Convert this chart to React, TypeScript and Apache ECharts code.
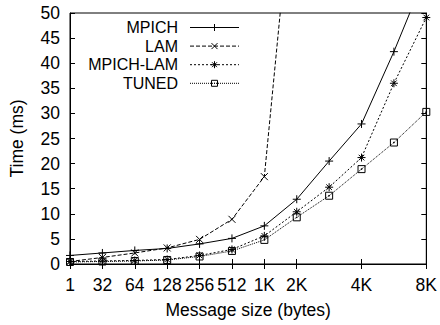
import React, { useEffect, useRef } from "react";
import * as echarts from "echarts";

const sizes = ["1", "32", "64", "128", "256", "512", "1K", "2K", "3K", "4K", "6K", "8K"];
const labeledSizes = ["1", "32", "64", "128", "256", "512", "1K", "2K", "4K", "8K"];
const mpich = [1.7, 2.2, 2.7, 3.1, 4.0, 5.1, 7.6, 12.9, 20.5, 27.9, 42.3, 58.0];
const lam = [0.5, 1.3, 2.2, 3.2, 4.9, 8.9, 17.4, 84.0, null, null, null, null];
const mpichLam = [0.5, 0.6, 0.7, 0.9, 1.7, 2.9, 5.6, 10.4, 15.3, 21.2, 36.0, 49.1];
const tuned = [0.4, 0.5, 0.6, 0.8, 1.5, 2.6, 4.8, 9.3, 13.6, 18.9, 24.2, 30.3];
const yTicks = { min: 0, max: 50, interval: 5 };

const FONT = "Liberation Sans, Arial, sans-serif";
const FS = 17.5;
const LEGEND_FS = 16;

const SYM = {
  plus: "path://M5,0L5,10M0,5L10,5",
  cross: "path://M0,0L10,10M10,0L0,10",
  star: "path://M5,0L5,10M0,5L10,5M1.5,1.5L8.5,8.5M8.5,1.5L1.5,8.5",
  square: "path://M0,0L10,0L10,10L0,10ZM4.5,4.5L5.5,4.5L5.5,5.5L4.5,5.5Z",
};

const seriesDefs = [
  { name: "MPICH", data: mpich, dash: "solid" as any, sym: "plus", size: 8 },
  { name: "LAM", data: lam, dash: [4, 2], sym: "cross", size: 7 },
  { name: "MPICH-LAM", data: mpichLam, dash: [2, 2], sym: "star", size: 8 },
  { name: "TUNED", data: tuned, dash: [1, 1], sym: "square", size: 7 },
];

function markerEls(kind: string, cx: number, cy: number, s: number) {
  const st = { stroke: "#000", lineWidth: 1 };
  const h = s / 2;
  const els: any[] = [];
  const ln = (x1: number, y1: number, x2: number, y2: number) =>
    els.push({ type: "line", shape: { x1, y1, x2, y2 }, style: st, z: 10 });
  if (kind === "plus" || kind === "star") {
    ln(cx - h, cy, cx + h, cy);
    ln(cx, cy - h, cx, cy + h);
  }
  if (kind === "cross") {
    ln(cx - h, cy - h, cx + h, cy + h);
    ln(cx + h, cy - h, cx - h, cy + h);
  }
  if (kind === "star") {
    const d = h * 0.7;
    ln(cx - d, cy - d, cx + d, cy + d);
    ln(cx + d, cy - d, cx - d, cy + d);
  }
  if (kind === "square") {
    els.push({ type: "rect", shape: { x: cx - h, y: cy - h, width: s, height: s }, style: { fill: "none", stroke: "#000", lineWidth: 1 }, z: 10 });
    els.push({ type: "rect", shape: { x: cx - 0.5, y: cy - 0.5, width: 1, height: 1 }, style: { fill: "#000" }, z: 10 });
  }
  return els;
}

export default function App() {
  const ref = useRef<HTMLDivElement>(null);
  useEffect(() => {
    if (!ref.current) return;
    const chart = echarts.init(ref.current, null, { renderer: "svg" });
    const showFn = (_i: number, v: string) => labeledSizes.includes(v);
    const legendEls: any[] = [];
    seriesDefs.forEach((s, i) => {
      const y = 27.5 + i * 18.6;
      legendEls.push({
        type: "text",
        style: {
          text: s.name,
          x: 178,
          y,
          textAlign: "right",
          textVerticalAlign: "middle",
          fontFamily: FONT,
          fontSize: LEGEND_FS,
          fill: "#000",
        },
        z: 10,
      });
      legendEls.push({
        type: "line",
        shape: { x1: 190, y1: y, x2: 239, y2: y },
        style: { stroke: "#000", lineWidth: 1, lineDash: s.dash === "solid" ? null : s.dash },
        z: 10,
      });
      legendEls.push(...markerEls(s.sym, 214.5, y, s.size - 1));
    });
    const axisCommon = {
      axisLine: { show: true, lineStyle: { color: "#000", width: 1 } },
      splitLine: { show: false },
    };
    chart.setOption({
      animation: false,
      backgroundColor: "#fff",
      grid: { left: 69, right: 12, top: 13, bottom: 61, show: true, borderColor: "#000", borderWidth: 1 },
      xAxis: [
        {
          type: "category",
          data: sizes,
          boundaryGap: false,
          position: "bottom",
          ...axisCommon,
          axisTick: { show: true, inside: true, length: 5, interval: showFn, lineStyle: { color: "#000" } },
          axisLabel: { interval: showFn, color: "#000", fontFamily: FONT, fontSize: FS, margin: 12 },
          name: "Message size (bytes)",
          nameLocation: "middle",
          nameGap: 37,
          nameTextStyle: { color: "#000", fontFamily: FONT, fontSize: FS },
        },
        {
          type: "category",
          data: sizes,
          boundaryGap: false,
          position: "top",
          ...axisCommon,
          axisTick: { show: true, inside: true, length: 5, interval: showFn, lineStyle: { color: "#000" } },
          axisLabel: { show: false },
        },
      ],
      yAxis: [
        {
          type: "value",
          ...yTicks,
          position: "left",
          ...axisCommon,
          axisTick: { show: true, inside: true, length: 5, lineStyle: { color: "#000" } },
          axisLabel: { color: "#000", fontFamily: FONT, fontSize: FS, margin: 10 },
          name: "Time (ms)",
          nameLocation: "middle",
          nameGap: 44,
          nameTextStyle: { color: "#000", fontFamily: FONT, fontSize: FS },
        },
        {
          type: "value",
          ...yTicks,
          position: "right",
          ...axisCommon,
          axisTick: { show: true, inside: true, length: 5, lineStyle: { color: "#000" } },
          axisLabel: { show: false },
        },
      ],
      series: seriesDefs.map((s) => ({
        name: s.name,
        type: "line",
        data: s.data,
        xAxisIndex: 0,
        yAxisIndex: 0,
        clip: true,
        connectNulls: false,
        symbol: (SYM as any)[s.sym],
        symbolSize: s.size,
        showAllSymbol: true,
        color: "#000",
        lineStyle: { color: "#000", width: 1, type: s.dash },
        itemStyle: { color: "transparent", borderColor: "#000", borderWidth: 1 },
        emphasis: { disabled: true },
      })),
      graphic: legendEls,
    });
    return () => chart.dispose();
  }, []);
  return (
    <div
      ref={ref}
      style={{ width: 440, height: 325, position: "absolute", left: 0, top: 0, background: "#fff" }}
    />
  );
}
